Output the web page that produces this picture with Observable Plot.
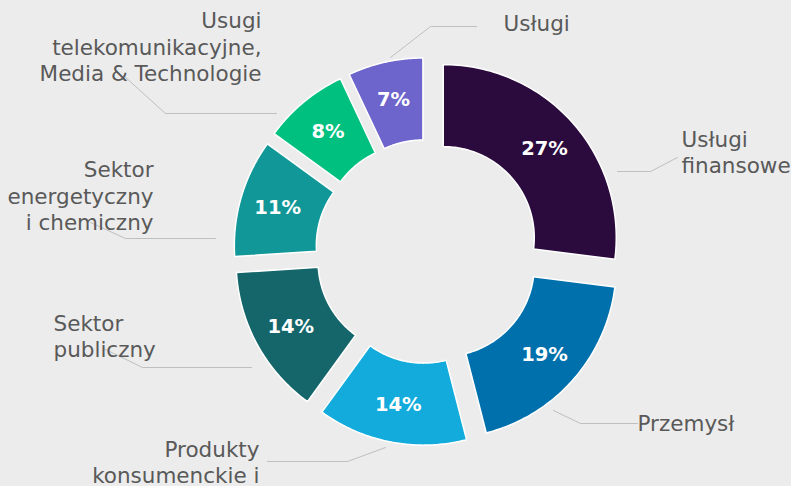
<!DOCTYPE html>
<html><head><meta charset="utf-8">
<script src="https://cdn.jsdelivr.net/npm/d3@7"></script>
<script src="https://cdn.jsdelivr.net/npm/@observablehq/plot@0.6"></script>
<style>
html,body{margin:0;padding:0;background:#ececec;overflow:hidden;}
#chart svg{display:block}
</style></head><body><div id="chart"></div>
<script>
// ---- data ----
const sectors = ["Usługi\nfinansowe", "Przemysł", "Produkty\nkonsumenckie i", "Sektor\npubliczny",
  "Sektor\nenergetyczny\ni chemiczny", "Usugi\ntelekomunikacyjne,\nMedia & Technologie", "Usługi"];
const shares = [27, 19, 14, 14, 11, 8, 7];
const pctLabels = ["27%", "19%", "14%", "14%", "11%", "8%", "7%"];
const colors = ["#2b0a3d", "#0070ad", "#12abdb", "#14666b", "#129799", "#00c07f", "#6d64cc"];

// ---- layout (pixel space) ----
const W = 791, H = 486;
const geom = {cx: 427, cy: 251, rOuter: 173, rInner: 91, explode: 21};
const callouts = [
  {anchor: "start", at: [681, 172], leader: [[617, 171], [650, 171], [677, 157]]},
  {anchor: "start", at: [637, 430], leader: [[553, 410], [580, 423], [637, 423]]},
  {anchor: "end",   at: [259, 482], leader: [[385, 447], [347, 461], [267, 461]]},
  {anchor: "start", at: [53, 356],  leader: [[251, 367], [142, 367], [103, 348]]},
  {anchor: "end",   at: [153, 229], leader: [[215, 238], [125, 238], [90, 222]]},
  {anchor: "end",   at: [261, 80],  leader: [[276, 113], [165, 113], [123, 75]]},
  {anchor: "start", at: [503, 30],  leader: [[390, 57], [430, 26], [476, 26]]}
];

const arcs = d3.pie().sort(null).value(d => d)(shares);
const slicePts = [];
const pctPts = [];
arcs.forEach((a, i) => {
  const mid = (a.startAngle + a.endAngle) / 2;
  const ox = geom.cx + geom.explode * Math.sin(mid);
  const oy = geom.cy - geom.explode * Math.cos(mid);
  const n = 80;
  for (let k = 0; k <= n; k++) {
    const t = a.startAngle + (a.endAngle - a.startAngle) * k / n;
    slicePts.push({sector: sectors[i], x: ox + geom.rOuter * Math.sin(t), y: oy - geom.rOuter * Math.cos(t)});
  }
  for (let k = n; k >= 0; k--) {
    const t = a.startAngle + (a.endAngle - a.startAngle) * k / n;
    slicePts.push({sector: sectors[i], x: ox + geom.rInner * Math.sin(t), y: oy - geom.rInner * Math.cos(t)});
  }
  const rm = (geom.rOuter + geom.rInner) / 2 + 3;
  pctPts.push({label: pctLabels[i], x: ox + rm * Math.sin(mid), y: oy - rm * Math.cos(mid)});
});

const leaderPts = callouts.flatMap((c, i) => c.leader.map(([x, y]) => ({i, x, y})));
const labelRows = callouts.map((c, i) => ({text: sectors[i], anchor: c.anchor, x: c.at[0], y: c.at[1]}));

const font = "DejaVu Sans, Verdana, sans-serif";
const chart = Plot.plot({
  width: W, height: H,
  margin: 0,
  x: {domain: [0, W], range: [0, W], axis: null},
  y: {domain: [0, H], range: [0, H], axis: null},
  color: {domain: sectors, range: colors},
  style: {background: "#ececec", fontFamily: font},
  marks: [
    Plot.line(slicePts, {x: "x", y: "y", z: "sector", fill: "sector", stroke: "white", strokeWidth: 1.5, curve: "linear-closed"}),
    Plot.line(leaderPts, {x: "x", y: "y", z: "i", stroke: "#bfbfbf", strokeWidth: 1}),
    Plot.text(pctPts, {x: "x", y: "y", text: "label", fill: "white", fontWeight: "bold", fontSize: 19.5, fontFamily: font}),
    Plot.text(labelRows.filter(d => d.anchor === "start"), {x: "x", y: "y", text: "text", textAnchor: "start", lineAnchor: "bottom", lineHeight: 1.21, fill: "#595959", fontSize: 21.5, fontFamily: font}),
    Plot.text(labelRows.filter(d => d.anchor === "end"), {x: "x", y: "y", text: "text", textAnchor: "end", lineAnchor: "bottom", lineHeight: 1.21, fill: "#595959", fontSize: 21.5, fontFamily: font})
  ]
});
document.getElementById("chart").append(chart);
</script>
</body></html>
